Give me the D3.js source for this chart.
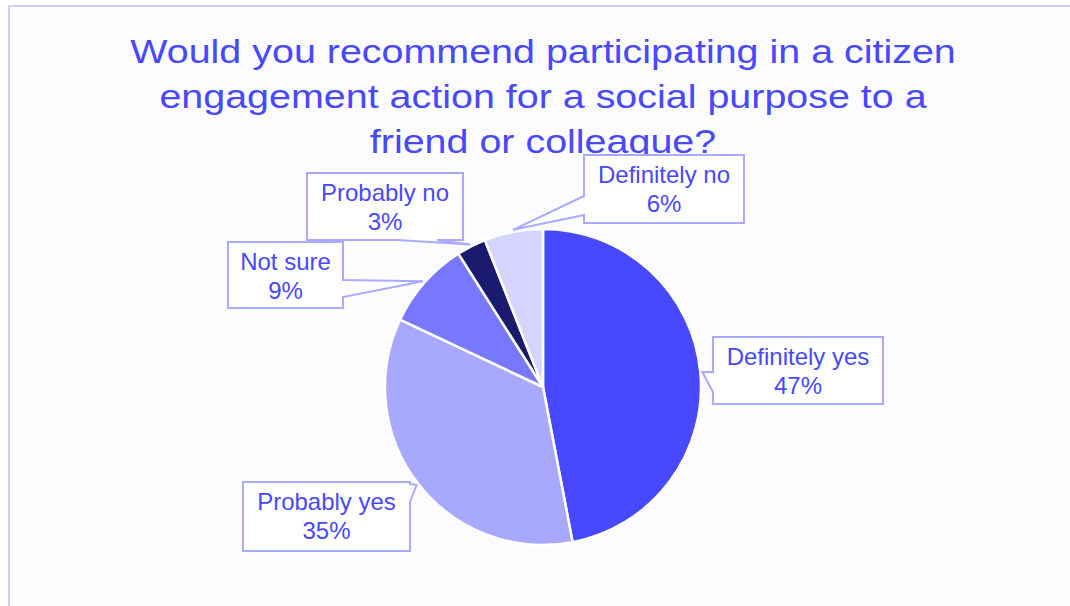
<!DOCTYPE html>
<html>
<head>
<meta charset="utf-8">
<script src="https://cdn.jsdelivr.net/npm/d3@7"></script>
<style>
  html, body { margin: 0; padding: 0; background: #ffffff; }
  svg { display: block; }
  text { font-family: "Liberation Sans", Arial, sans-serif; }
</style>
</head>
<body>
<svg id="chart" width="1070" height="606"></svg>
<script>
// ---- data ----
const categories = ["Definitely yes", "Probably yes", "Not sure", "Probably no", "Definitely no"];
const values = [47, 35, 9, 3, 6];
const valueLabels = ["47%", "35%", "9%", "3%", "6%"];
const titleLines = [
  "Would you recommend participating in a citizen",
  "engagement action for a social purpose to a",
  "friend or colleague?"
];

// ---- style / layout ----
const colors = ["#4848ff", "#a8a8ff", "#7878ff", "#1a1a6e", "#d4d4ff"];
const textColor = "#4848ff";
const W = 1070, H = 606;
const cx = 543, cy = 387, R = 158;
// callout boxes: [x, y, w, h], wedge side and base offsets along that side
const callouts = [
  { box: [713, 337, 170, 67], side: "left",   a: 35, b: 55 },
  { box: [243, 482, 167, 69], side: "right",  a: 2,  b: 20 },
  { box: [228, 242, 115, 66], side: "right",  a: 38, b: 55 },
  { box: [307, 173, 156, 67], side: "bottom", a: 90, b: 130 },
  { box: [584, 155, 160, 68], side: "left",   a: 41, b: 60 }
];

const svg = d3.select("#chart");

// background frame
svg.append("rect")
  .attr("x", 9).attr("y", 6).attr("width", W + 20).attr("height", H + 20)
  .attr("fill", "#fcfcff").attr("stroke", "#cfcfff").attr("stroke-width", 2);

// title
const title = svg.append("g")
  .attr("transform", `translate(${cx},0) scale(1.16,1)`);
title.selectAll("text").data(titleLines).join("text")
  .attr("x", 0)
  .attr("y", (d, i) => 63 + i * 45)
  .attr("text-anchor", "middle")
  .attr("font-size", 34)
  .attr("fill", textColor)
  .text(d => d);

// pie
const pie = d3.pie().sort(null).value(d => d)
  .startAngle(0).endAngle(2 * Math.PI);
const arcs = pie(values);
const arc = d3.arc().innerRadius(0).outerRadius(R);
const edgeArc = d3.arc().innerRadius(R + 2).outerRadius(R + 2);

const g = svg.append("g").attr("transform", `translate(${cx},${cy})`);
g.selectAll("path.slice").data(arcs).join("path")
  .attr("class", "slice")
  .attr("d", arc)
  .attr("fill", (d, i) => colors[i])
  .attr("stroke", "#ffffff")
  .attr("stroke-width", 2.5)
  .attr("stroke-linejoin", "round");

// callouts
function calloutPath(c, tip) {
  const [x, y, w, h] = c.box;
  const [tx, ty] = tip;
  const p = d3.path();
  p.moveTo(x, y);
  p.lineTo(x + w, y);
  if (c.side === "right") {
    p.lineTo(x + w, y + c.a); p.lineTo(tx, ty); p.lineTo(x + w, y + c.b);
  }
  p.lineTo(x + w, y + h);
  if (c.side === "bottom") {
    p.lineTo(x + c.b, y + h); p.lineTo(tx, ty); p.lineTo(x + c.a, y + h);
  }
  p.lineTo(x, y + h);
  if (c.side === "left") {
    p.lineTo(x, y + c.b); p.lineTo(tx, ty); p.lineTo(x, y + c.a);
  }
  p.closePath();
  return p.toString();
}

const lab = svg.append("g");
arcs.forEach((d, i) => {
  const c = callouts[i];
  const e = edgeArc.centroid(d);
  const tip = [cx + e[0], cy + e[1]];
  lab.append("path")
    .attr("d", calloutPath(c, tip))
    .attr("fill", "#ffffff")
    .attr("stroke", "#aaaaff")
    .attr("stroke-width", 2)
    .attr("stroke-linejoin", "miter");
  const [x, y, w] = c.box;
  const t = lab.append("text")
    .attr("text-anchor", "middle")
    .attr("font-size", 24)
    .attr("fill", textColor);
  t.append("tspan").attr("x", x + w / 2).attr("y", y + 28).text(categories[i]);
  t.append("tspan").attr("x", x + w / 2).attr("y", y + 57).text(valueLabels[i]);
});
</script>
</body>
</html>
